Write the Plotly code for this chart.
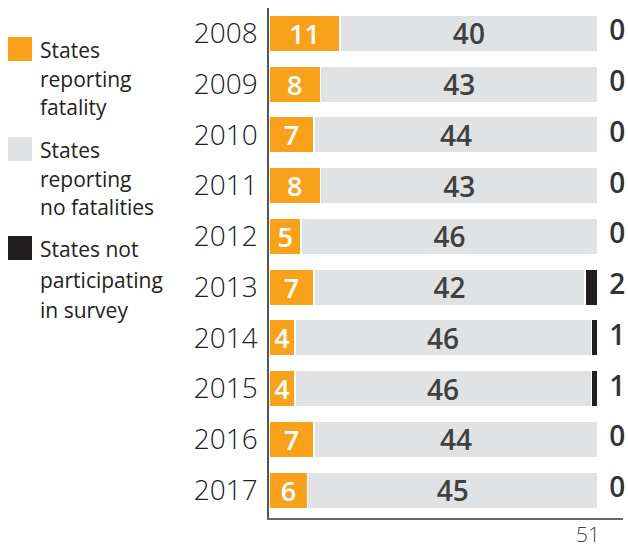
import plotly.graph_objects as go

years = ["2008", "2009", "2010", "2011", "2012", "2013", "2014", "2015", "2016", "2017"]
fatality = [11, 8, 7, 8, 5, 7, 4, 4, 7, 6]
no_fatality = [40, 43, 44, 43, 46, 42, 46, 46, 44, 45]
not_participating = [0, 0, 0, 0, 0, 2, 1, 1, 0, 0]
total_states = 51

orange = "#F9A11B"
grey = "#E1E2E3"
black = "#231F20"

fig = go.Figure()

fig.add_trace(go.Bar(
    y=years, x=fatality, orientation="h", marker=dict(color=orange, line=dict(color="white", width=1.5)),
    text=fatality, textposition="inside", insidetextanchor="middle", constraintext="none", textangle=0,
    textfont=dict(family="Open Sans", size=27, color="white", weight=600),
    width=0.72, showlegend=False, hoverinfo="skip"))

fig.add_trace(go.Bar(
    y=years, x=no_fatality, orientation="h", marker=dict(color=grey, line=dict(color="white", width=1.5)),
    text=no_fatality, textposition="inside", insidetextanchor="middle", constraintext="none", textangle=0,
    textfont=dict(family="Open Sans", size=28, color="#404040", weight=600),
    width=0.72, showlegend=False, hoverinfo="skip"))

fig.add_trace(go.Bar(
    y=years, x=not_participating, orientation="h", marker=dict(color=black, line=dict(color="white", width=1.5)),
    width=0.72, showlegend=False, hoverinfo="skip"))

# counts of states not participating, to the right of the bars
fig.add_trace(go.Scatter(
    y=years, x=[54.0] * len(years), mode="text", text=[str(v) for v in not_participating],
    textfont=dict(family="Open Sans", size=28, color="#333333", weight=600),
    showlegend=False, hoverinfo="skip", cliponaxis=False))

# legend drawn by hand
legend_items = [
    (orange, ["States", "reporting", "fatality"], 37, [48, 77, 105]),
    (grey, ["States", "reporting", "no fatalities"], 137, [148, 177, 205]),
    (black, ["States not", "participating", "in survey"], 236, [247, 278, 308]),
]
px_x = lambda p: (p - 269) / 354
px_y = lambda p: (518 - p) / 510
for col, lines, top, centers in legend_items:
    fig.add_shape(type="rect", xref="paper", yref="paper",
                  x0=px_x(8), x1=px_x(32), y0=px_y(top), y1=px_y(top + 24),
                  fillcolor=col, line=dict(width=0))
    for line, c in zip(lines, centers):
        fig.add_annotation(xref="paper", yref="paper", x=px_x(38), y=px_y(c + 2),
                           xanchor="left", yanchor="middle", align="left", showarrow=False,
                           text=line, font=dict(family="Open Sans", size=21, color="#222222"))

fig.update_layout(
    barmode="stack",
    width=628, height=547,
    margin=dict(l=269, r=5, t=8, b=29, autoexpand=False),
    plot_bgcolor="white", paper_bgcolor="white",
)

fig.update_xaxes(
    range=[0, 54.9], tickvals=[total_states], ticktext=[str(total_states)],
    ticks="", showgrid=False, zeroline=False, automargin=False,
    showline=True, linecolor="#666666", linewidth=1.5,
    tickfont=dict(family="Open Sans", size=21, color="#444444", weight=300),
    ticklabelposition="outside left", ticklabelstandoff=-3, ticklabelshift=3,
)
fig.update_yaxes(
    type="category", range=[9.55, -0.5],
    ticks="", showgrid=False, zeroline=False, automargin=False,
    showline=True, linecolor="#555555", linewidth=1.5,
    tickfont=dict(family="Open Sans", size=28, color="#222222", weight=300),
    ticklabelstandoff=4,
)

# drop the default body margin so the figure fills the window exactly
fig.write_html("out.html", config={"displayModeBar": False},
               post_script="document.body.style.margin='0';document.body.style.overflow='hidden';")
